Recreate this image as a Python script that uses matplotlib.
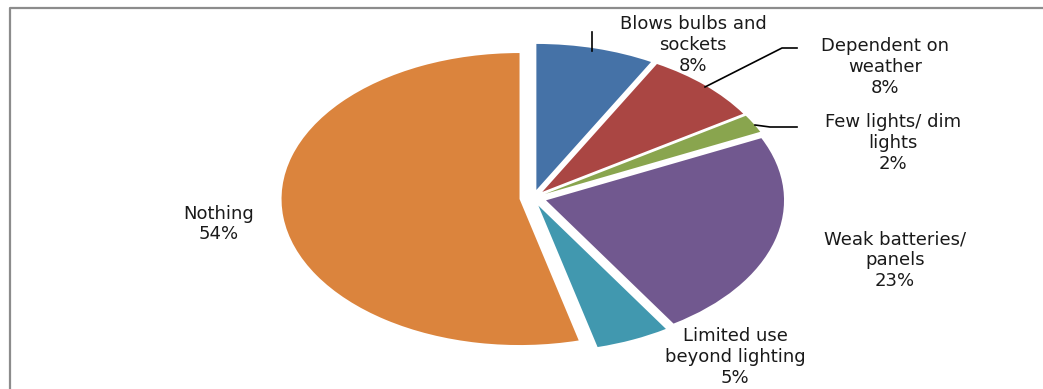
import matplotlib
matplotlib.use("Agg")
import matplotlib.pyplot as plt
from matplotlib.lines import Line2D

# Reported issues with the solar lighting system
labels = ["Blows bulbs and\nsockets", "Dependent on\nweather", "Few lights/ dim\nlights",
          "Weak batteries/\npanels", "Limited use\nbeyond lighting", "Nothing"]
shares = [8, 8, 2, 23, 5, 54]
colors = ["#4572A7", "#AA4643", "#89A54E", "#71588F", "#4198AF", "#DB843D"]

W, H = 1043, 389


def px(x, y):
    # pixel position -> figure fraction
    return x / W, 1 - y / H


fig = plt.figure(figsize=(W / 100, H / 100), dpi=100)
ax = fig.add_axes([0, 0, 1, 1])

ax.pie(shares, colors=colors, startangle=90, counterclock=False,
       explode=[0.057] * len(shares))

# the pie is drawn wider than tall, so let the axes stretch it
cx, cy, rx, ry = 533, 198, 238, 146
ax.set_aspect("auto")
ax.set_xlim(-cx / rx, (W - cx) / rx)
ax.set_ylim((cy - H) / ry, cy / ry)
ax.axis("off")

# label positions (centre of each text block, pixels)
label_pos = [(693, 45), (885, 67), (893, 143), (895, 260), (735, 357), (219, 224)]
for name, share, (x, y) in zip(labels, shares, label_pos):
    fig.text(*px(x, y), f"{name}\n{share}%", ha="center", va="center",
             fontsize=13, color="#1a1a1a", linespacing=1.2, family="DejaVu Sans")

# leader lines
leaders = [
    [(592, 32), (592, 51)],
    [(705, 87), (782, 48), (797, 48)],
    [(755, 125), (770, 127), (797, 127)],
]
for pts in leaders:
    xs, ys = zip(*[px(x, y) for x, y in pts])
    fig.add_artist(Line2D(xs, ys, color="black", lw=1.2))

# chart area border (left and top edges)
xs, ys = zip(*[px(10, H), px(10, 7.5), px(W, 7.5)])
fig.add_artist(Line2D(xs, ys, color="#8c8c8c", lw=1.6))

plt.savefig("out.png", dpi=100)
